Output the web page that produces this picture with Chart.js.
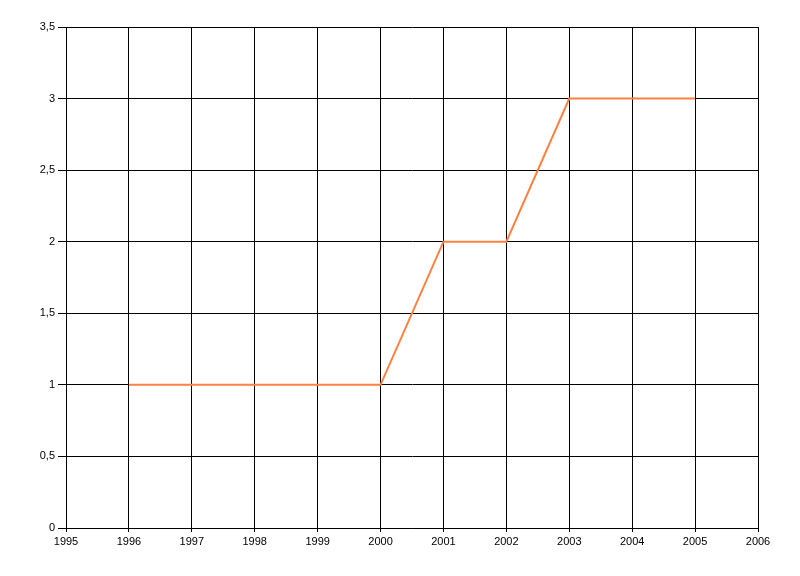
<!DOCTYPE html>
<html>
<head>
<meta charset="utf-8">
<script src="https://cdn.jsdelivr.net/npm/chart.js@4/dist/chart.umd.min.js"></script>
<style>
  html, body { margin: 0; padding: 0; background: #fff; }
  #wrap { width: 800px; height: 576px; }
</style>
</head>
<body>
<div id="wrap"><canvas id="lineChart" width="800" height="576"></canvas></div>
<script>
const years = [1996, 1997, 1998, 1999, 2000, 2001, 2002, 2003, 2004, 2005];
const values = [1, 1, 1, 1, 1, 2, 2, 3, 3, 3];
const xMin = 1995, xMax = 2006;
const yMin = 0, yMax = 3.5, yStep = 0.5;

const points = years.map((y, i) => ({ x: y, y: values[i] }));

const ctx = document.getElementById('lineChart').getContext('2d');

new Chart(ctx, {
    type: 'line',
    data: {
        datasets: [{
            data: points,
            borderColor: '#ff8040',
            borderWidth: 2,
            pointRadius: 0,
            tension: 0,
            fill: false
        }]
    },
    options: {
        responsive: false,
        animation: false,
        layout: { padding: { left: 0, top: 27, right: 42, bottom: 0 } },
        plugins: {
            legend: { display: false },
            tooltip: { enabled: false }
        },
        scales: {
            x: {
                type: 'linear',
                min: xMin,
                max: xMax,
                afterFit: (scale) => { scale.height = 48; },
                ticks: {
                    stepSize: 1,
                    color: '#000',
                    padding: 3,
                    font: { family: 'Liberation Sans', size: 11 },
                    callback: (v) => String(v)
                },
                grid: { color: '#000', lineWidth: 1, tickLength: 4 },
                border: { color: '#000' }
            },
            y: {
                min: yMin,
                max: yMax,
                afterFit: (scale) => { scale.width = 66; },
                ticks: {
                    stepSize: yStep,
                    color: '#000',
                    padding: 3,
                    font: { family: 'Liberation Sans', size: 11 },
                    callback: (v) => String(v).replace('.', ',')
                },
                grid: { color: '#000', lineWidth: 1, tickLength: 8 },
                border: { color: '#000' }
            }
        }
    }
});
</script>
</body>
</html>
